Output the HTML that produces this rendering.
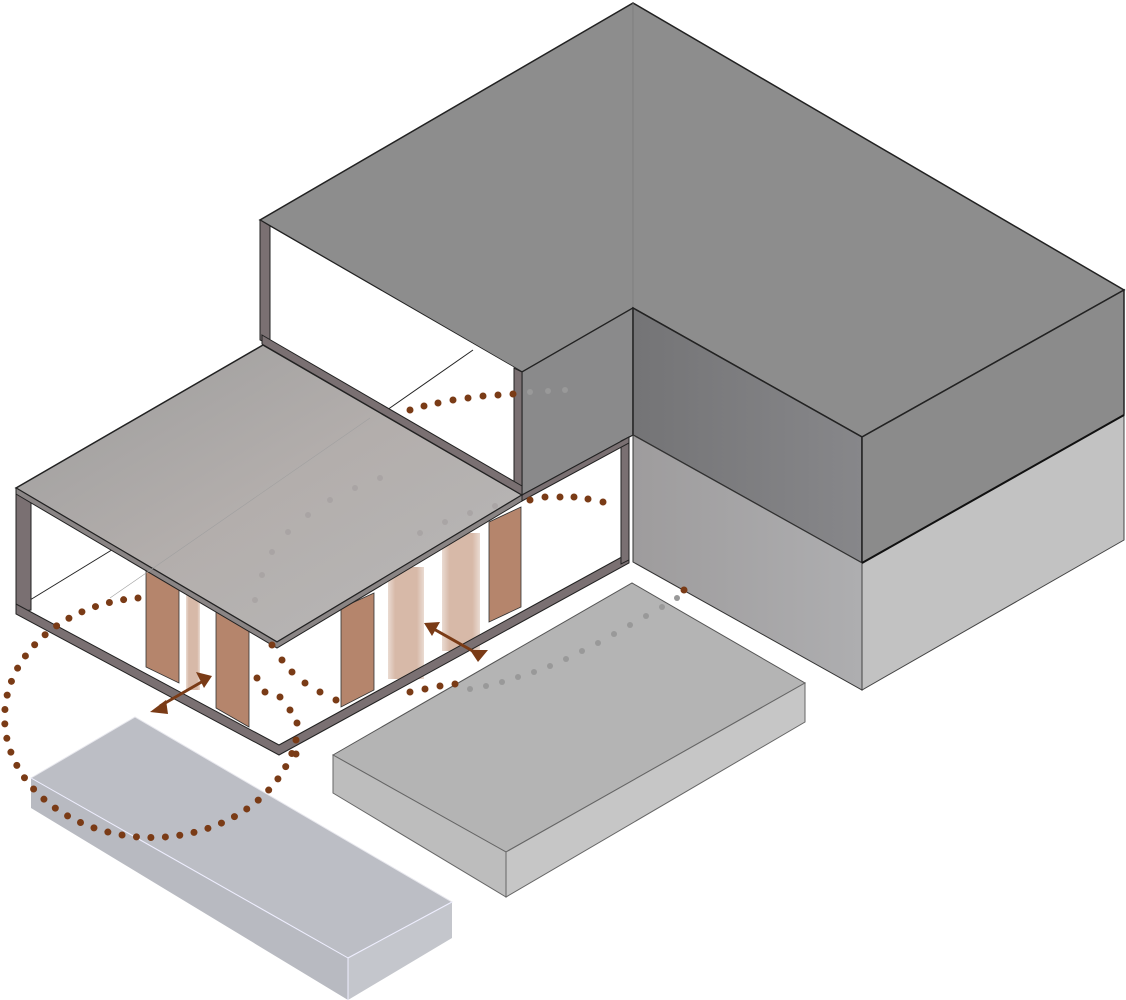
<!DOCTYPE html>
<html><head><meta charset="utf-8"><style>html,body{margin:0;padding:0;background:#fff}svg{display:block}</style></head>
<body>
<svg width="1126" height="1000" viewBox="0 0 1126 1000" xmlns="http://www.w3.org/2000/svg">
<defs>
<linearGradient id="slab" x1="0" y1="0" x2="1" y2="1">
<stop offset="0" stop-color="#9c9c9c"/><stop offset="0.5" stop-color="#b3aeac"/><stop offset="1" stop-color="#b8b8b8"/>
</linearGradient>
<linearGradient id="lface" x1="0" y1="0" x2="1" y2="0">
<stop offset="0" stop-color="#747476"/><stop offset="1" stop-color="#87878a"/>
</linearGradient>
<linearGradient id="lface2" x1="0" y1="0" x2="1" y2="0">
<stop offset="0" stop-color="#9e9c9d"/><stop offset="1" stop-color="#aeaeb0"/>
</linearGradient>
<linearGradient id="fadeP" x1="0" y1="0" x2="1" y2="0">
<stop offset="0" stop-color="#eadbd2"/><stop offset="0.2" stop-color="#d7b9a8"/><stop offset="0.8" stop-color="#d7b9a8"/><stop offset="1" stop-color="#eadbd2"/>
</linearGradient>
</defs>

<!-- main roof L -->
<polygon points="633,3 1124,290 862,437 633,308 522,372 260,220" fill="#8d8d8d" stroke="#222" stroke-width="1.5"/>
<line x1="633" y1="3" x2="633" y2="308" stroke="#7a7a7a" stroke-width="0.8"/>
<!-- notch wall -->
<polygon points="522,372 633,308 633,435 522,495" fill="#8a8a8b" stroke="#222" stroke-width="1.2"/>
<!-- right wing upper faces -->
<polygon points="633,308 862,437 862,563 633,435" fill="url(#lface)" stroke="#222" stroke-width="1.5"/>
<polygon points="862,437 1124,290 1124,415 862,563" fill="#8b8b8b" stroke="#222" stroke-width="1.5"/>
<!-- lower faces -->
<polygon points="633,435 862,563 862,690 633,562" fill="url(#lface2)" stroke="#333" stroke-width="1"/>
<polygon points="862,563 1124,415 1124,540 862,690" fill="#c2c2c2" stroke="#444" stroke-width="1"/>
<line x1="862" y1="563" x2="1124" y2="415" stroke="#111" stroke-width="2"/>

<!-- upper glass box -->
<polygon points="262,222 522,372 522,495 262,342" fill="#fff"/>
<line x1="387" y1="410" x2="473" y2="350" stroke="#222" stroke-width="1"/>
<polygon points="260,220 270,226 270,345 260,340" fill="#7a7072" stroke="#222" stroke-width="1"/>
<polygon points="514,368 522,372 522,495 514,491" fill="#7a7072" stroke="#222" stroke-width="1"/>

<!-- lower glass box interior -->
<polygon points="18,490 263,345 522,495 629,437 629,560 279,753 18,612" fill="#fff"/>
<line x1="30" y1="600" x2="115" y2="548" stroke="#222" stroke-width="1"/>

<!-- upper dotted -->
<g fill="#7a3b16">
<circle cx="410" cy="410" r="3.5"/><circle cx="424" cy="406" r="3.5"/><circle cx="438" cy="403" r="3.5"/><circle cx="453" cy="400" r="3.5"/><circle cx="468" cy="398" r="3.5"/><circle cx="483" cy="396" r="3.5"/><circle cx="498" cy="395" r="3.5"/><circle cx="513" cy="394" r="3.5"/>
</g>
<g fill="#999"><circle cx="530" cy="392" r="3"/><circle cx="548" cy="391" r="3"/><circle cx="565" cy="390" r="3"/></g>

<!-- panels -->
<polygon points="146,570 179,560 179,683 146,667" fill="#b5856c" stroke="#333" stroke-width="0.8"/>
<rect x="186" y="590" width="14" height="100" fill="url(#fadeP)"/>
<polygon points="216,610 249,622 249,727 216,708" fill="#b5856c" stroke="#333" stroke-width="0.8"/>
<polygon points="341,608 374,593 374,690 341,707" fill="#b5856c" stroke="#333" stroke-width="0.8"/>
<rect x="388" y="567" width="36" height="112" fill="url(#fadeP)"/>
<rect x="442" y="533" width="38" height="118" fill="url(#fadeP)"/>
<polygon points="489,522 521,507 521,607 489,622" fill="#b5856c" stroke="#333" stroke-width="0.8"/>

<!-- lower box frame -->
<polygon points="16,490 31,497 31,610 16,612" fill="#7a7072" stroke="#222" stroke-width="1"/>
<polygon points="16,604 279,745 629,553 629,563 279,755 16,614" fill="#7a7072" stroke="#222" stroke-width="1"/>
<polygon points="621,441 629,437 629,560 621,564" fill="#7a7072" stroke="#222" stroke-width="1"/>
<polygon points="522,495 629,437 629,443 522,501" fill="#7a7072" stroke="#222" stroke-width="1"/>

<!-- slab -->
<polygon points="16,488 263,345 522,495 277,642" fill="url(#slab)" stroke="#222" stroke-width="1.5"/>
<polygon points="16,488 277,642 522,495 522,501 277,648 16,494" fill="#8a8585" stroke="#222" stroke-width="1"/>
<line x1="110" y1="598" x2="370" y2="418" stroke="#a0a0a0" stroke-width="0.6"/>
<!-- upper box bottom frame -->
<polygon points="262,335 522,486 522,495 262,344" fill="#7a7072" stroke="#222" stroke-width="1"/>
<!-- faint dots on slab -->
<g fill="#a5a0a0" opacity="0.7">
<circle cx="255" cy="600" r="3"/><circle cx="262" cy="575" r="3"/><circle cx="272" cy="552" r="3"/><circle cx="288" cy="532" r="3"/><circle cx="308" cy="515" r="3"/><circle cx="330" cy="500" r="3"/><circle cx="355" cy="488" r="3"/><circle cx="380" cy="478" r="3"/>
<circle cx="420" cy="533" r="3"/><circle cx="445" cy="522" r="3"/><circle cx="470" cy="513" r="3"/><circle cx="495" cy="506" r="3"/>
</g>

<!-- right dotted -->
<g fill="#7a3b16">
<circle cx="530" cy="500" r="3.5"/><circle cx="545" cy="497" r="3.5"/><circle cx="560" cy="497" r="3.5"/><circle cx="574" cy="497" r="3.5"/><circle cx="588" cy="499" r="3.5"/><circle cx="603" cy="502" r="3.5"/>
</g>

<!-- ground boxes -->
<polygon points="333,755 632,583 805,683 506,852" fill="#b4b4b4" stroke="#555" stroke-width="1"/>
<polygon points="333,755 506,852 506,897 333,793" fill="#bdbdbd" stroke="#666" stroke-width="1"/>
<polygon points="506,852 805,683 805,722 506,897" fill="#c6c6c6" stroke="#666" stroke-width="1"/>
<g fill="#999">
<circle cx="677" cy="598" r="3"/><circle cx="662" cy="607" r="3"/><circle cx="646" cy="616" r="3"/><circle cx="630" cy="625" r="3"/><circle cx="614" cy="634" r="3"/><circle cx="598" cy="643" r="3"/><circle cx="582" cy="651" r="3"/><circle cx="566" cy="659" r="3"/><circle cx="550" cy="666" r="3"/><circle cx="534" cy="672" r="3"/><circle cx="518" cy="677" r="3"/><circle cx="502" cy="682" r="3"/><circle cx="486" cy="686" r="3"/><circle cx="470" cy="689" r="3"/>
</g>
<g fill="#7a3b16">
<circle cx="684" cy="590" r="3.5"/><circle cx="455" cy="684" r="3.5"/><circle cx="440" cy="686" r="3.5"/><circle cx="425" cy="689" r="3.5"/><circle cx="410" cy="692" r="3.5"/>
<circle cx="272" cy="645" r="3.5"/><circle cx="282" cy="660" r="3.5"/><circle cx="292" cy="672" r="3.5"/><circle cx="305" cy="683" r="3.5"/><circle cx="320" cy="692" r="3.5"/><circle cx="336" cy="700" r="3.5"/>
<circle cx="257" cy="678" r="3.5"/><circle cx="265" cy="692" r="3.5"/><circle cx="280" cy="697" r="3.5"/><circle cx="290" cy="710" r="3.5"/><circle cx="297" cy="723" r="3.5"/>
</g>

<polygon points="31,778 135,717 452,902 348,958" fill="#bcbec5" stroke="#e8e8ee" stroke-width="1"/>
<polygon points="31,778 348,958 348,1000 31,808" fill="#b8bac1"/>
<polygon points="348,958 452,902 452,938 348,1000" fill="#c4c6cc"/>
<line x1="31" y1="778" x2="348" y2="958" stroke="#eef" stroke-width="1"/>
<line x1="348" y1="958" x2="452" y2="902" stroke="#eef" stroke-width="1"/>
<line x1="348" y1="958" x2="348" y2="1000" stroke="#eef" stroke-width="1"/>

<!-- big left loop -->
<path d="M 138 598 A 147 120 0 1 0 296 740" fill="none" stroke="#7a3b16" stroke-width="7" stroke-linecap="round" stroke-dasharray="0 14.5"/>
<path d="M 296 740 L 296 760" fill="none" stroke="#7a3b16" stroke-width="7" stroke-linecap="round" stroke-dasharray="0 14"/>

<!-- arrows -->
<g stroke="#7a3b16" stroke-width="3" fill="#7a3b16">
<line x1="160" y1="706" x2="205" y2="680"/>
<polygon points="212,676 196,672 204,688" stroke="none"/>
<polygon points="150,712 166,700 168,714" stroke="none"/>
<line x1="432" y1="628" x2="478" y2="654"/>
<polygon points="424,623 440,622 432,636" stroke="none"/>
<polygon points="488,650 470,650 478,662" stroke="none"/>
</g>
</svg>
</body></html>
